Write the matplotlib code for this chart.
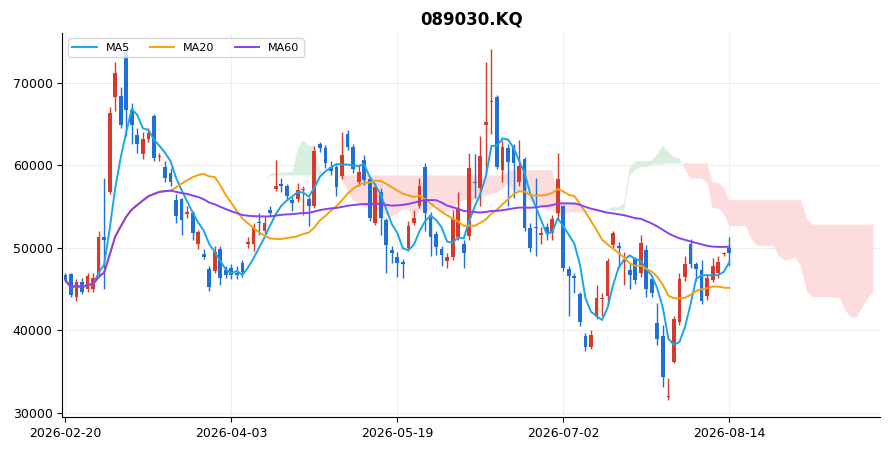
import numpy as np, pandas as pd
import matplotlib
matplotlib.use("Agg")
import matplotlib.pyplot as plt

title = "089030.KQ"
start_date = "2026-02-20"
tick_labels = ["2026-02-20", "2026-04-03", "2026-05-19", "2026-07-02", "2026-08-14"]

opens = [46700,46850,44000,45900,45000,45000,47000,51300,56800,68300,68400,73750,66700,63700,61400,63200,66000,61000,59800,59100,
         55800,55850,54100,54250,50500,49300,47450,47200,49900,47300,47500,47000,48200,50400,50400,53150,52050,54600,57150,57700,
         57500,55800,55950,57000,55950,55000,62500,62100,59800,59800,58700,63800,62250,57900,60650,58350,53000,56750,53400,49750,
         48900,48300,50000,53050,55000,59800,54000,51700,49900,48400,48900,51350,50500,51450,57900,57250,64800,67700,68300,59450,
         62100,62250,58000,60800,52400,52500,51600,52500,51800,54250,55000,47450,46600,44400,39350,38000,41650,43800,44200,50300,
         50250,48300,47350,48800,47000,49750,46250,40900,39350,31950,36200,41050,46500,50500,48000,47350,44200,46150,47000,49200,50000]
closes = [46100,44300,45800,44700,46600,46300,51300,51000,66250,71200,64900,66700,64900,62600,63200,63900,60900,61100,58500,58000,
          53900,53400,54300,51800,51950,48900,45300,49500,46400,46700,46700,46700,47100,50750,52400,53050,53000,54250,57500,57500,
          56300,55450,57000,57150,55000,61750,62100,60300,59300,57300,61250,62250,59550,59200,58250,53650,57300,53650,50350,49400,
          48200,48000,52650,53650,57500,54250,51350,50100,49150,48900,53500,54700,49400,59700,57800,61050,65250,67800,59800,62250,
          60400,60300,59950,52400,50000,52400,51800,51800,53500,58350,47600,46600,46300,41000,38000,39450,43950,43900,48400,51800,
          50000,48550,46700,46150,50600,45050,44550,38950,34350,32050,41400,46250,48050,48050,47400,43600,46350,47850,48300,49300,49400]
highs = [47000,47000,46200,46300,47000,47000,52000,58500,67000,72500,69500,74000,67500,64500,64000,64500,66200,61500,60500,59600,
         56500,56000,55000,54500,52200,49800,47800,50200,50200,47800,48000,47800,48500,51300,53000,54200,53800,55000,60600,58500,
         57700,56200,57800,57500,56200,62300,62800,62400,60500,60000,64000,64200,62600,60000,61200,58600,57800,57200,53600,50200,
         49500,48700,53200,54600,58500,60200,54300,52000,50200,49400,54600,56800,51000,61500,61300,63500,72500,74000,68500,63000,
         62600,62500,63000,61000,53000,58500,52500,53000,54000,61500,55200,47800,47000,44600,39700,40000,45500,44500,48800,52000,
         50700,49500,48000,48900,51500,50300,46600,43300,40700,34200,41800,47000,49000,51100,48300,48500,46800,48800,49000,49500,51300]
lows = [45800,44000,43500,44400,44700,44700,46600,45000,56500,66500,64500,63500,62500,61500,60700,62800,60500,60500,58000,57500,
        53000,51500,53600,51000,49800,48600,44800,46900,45500,46300,46200,46200,46500,50000,49600,51500,51800,53800,56900,56800,
        55800,54500,55500,54000,52600,54800,61600,59700,58800,56300,58300,61800,59000,57500,57600,53300,52800,51500,47000,48200,
        46500,46400,49600,52800,54800,52000,49000,49100,47800,47500,48500,51000,47600,51000,56000,55000,59000,63800,59500,58000,
        55000,56000,57500,52000,49500,49000,50500,51000,51000,53500,47200,41800,44500,40500,37500,37800,41400,41800,43000,50000,
        47500,45500,45000,45600,46500,44000,44000,38200,33100,31600,36000,40700,46000,47500,46000,43200,43700,45900,46400,49000,47800]

df = pd.DataFrame({"o": opens, "h": highs, "l": lows, "c": closes})
n = len(df)
x = np.arange(n)
c = df["c"]
ma5 = c.rolling(5, min_periods=1).mean()
ma20 = c.rolling(20, min_periods=1).mean()
ma60 = c.rolling(60, min_periods=1).mean()
conv = (df["h"].rolling(9, min_periods=1).max() + df["l"].rolling(9, min_periods=1).min()) / 2
base = (df["h"].rolling(26, min_periods=1).max() + df["l"].rolling(26, min_periods=1).min()) / 2
spanA = ((conv + base) / 2).values
spanB = ((df["h"].rolling(52, min_periods=1).max() + df["l"].rolling(52, min_periods=1).min()) / 2).values
xs = x + 26

fig = plt.figure(figsize=(8.91, 4.51), dpi=100)
ax = fig.add_axes([0.07, 0.075, 0.918, 0.852])
ax.fill_between(xs, spanA, spanB, where=spanA >= spanB, color="#d5eedd", alpha=0.9, lw=0, interpolate=True)
ax.fill_between(xs, spanA, spanB, where=spanA < spanB, color="#fcd9d9", alpha=0.9, lw=0, interpolate=True)

up, dn = "#d63a2c", "#1e6fd6"
for i in range(n):
    o, h, l, cl = opens[i], highs[i], lows[i], closes[i]
    col = up if cl >= o else dn
    ax.vlines(i, l, h, color=col, lw=1)
    bot, ht = min(o, cl), abs(cl - o)
    ax.bar(i, max(ht, 120), bottom=bot, width=0.68, color=col, lw=0)

ax.plot(x, ma5, color="#1aa6e6", lw=1.4, label="MA5")
ax.plot(x, ma20, color="#f5a00f", lw=1.4, label="MA20")
ax.plot(x, ma60, color="#8a3ff0", lw=1.4, label="MA60")

ax.set_xlim(-0.55, 147.3)
ax.set_ylim(29500, 76000)
ax.set_yticks([30000, 40000, 50000, 60000, 70000])
ax.set_xticks([0, 30, 60, 90, 120])
ax.set_xticklabels(tick_labels)
ax.grid(True, color="#eeeeee", lw=0.8)
ax.set_axisbelow(True)
for s in ["top", "right"]:
    ax.spines[s].set_visible(False)
ax.tick_params(labelsize=9)
ax.legend(loc="upper left", ncol=3, fontsize=8, frameon=True, handlelength=2.2, columnspacing=1.8)
ax.set_title(title, fontsize=12, fontweight="bold")
fig.savefig("out.png", dpi=100)
